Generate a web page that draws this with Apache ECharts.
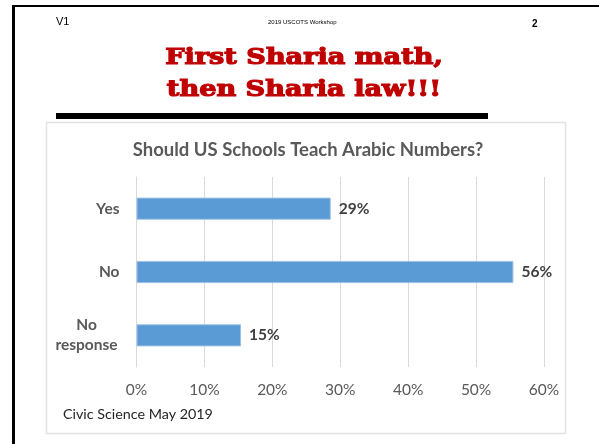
<!DOCTYPE html>
<html>
<head>
<meta charset="utf-8">
<script src="https://cdn.jsdelivr.net/npm/echarts@6/dist/echarts.min.js"></script>
<style>
  html, body { margin: 0; padding: 0; background: #fff; }
  #chart { width: 599px; height: 444px; }
</style>
</head>
<body>
<div id="chart"></div>
<script>
// survey data
var categories = ['Yes', 'No', 'No\nresponse']
var shares = [28.6, 55.5, 15.4]
var tickValues = [0, 10, 20, 30, 40, 50, 60]

var grayText = '#595959'
var barBlue = '#5b9bd5'
var fontFam = 'Lato, "Open Sans", sans-serif'

var myChart = echarts.init(document.getElementById('chart'), null, { renderer: 'canvas' })

var labelStyle = {
  color: grayText,
  fontFamily: fontFam,
  fontWeight: 'bold',
  fontSize: 15.5,
  lineHeight: 20
}

var option = {
  backgroundColor: '#fff',
  animation: false,
  title: {
    text: 'Should US Schools Teach Arabic Numbers?',
    left: 303,
    top: 136,
    textAlign: 'center',
    textStyle: {
      color: grayText,
      fontFamily: fontFam,
      fontWeight: 'bold',
      fontSize: 18.5
    }
  },
  graphic: [
    // slide frame: top and left black edges
    { type: 'rect', shape: { x: 12, y: 5, width: 600, height: 2 }, style: { fill: '#000' } },
    { type: 'rect', shape: { x: 12, y: 5, width: 3, height: 450 }, style: { fill: '#000' } },
    // header
    { type: 'text', left: 56, top: 16, style: { text: 'V1', fill: '#000', font: '11px "Liberation Sans", Arial, sans-serif' } },
    { type: 'text', left: 268, top: 19, style: { text: '2019 USCOTS Workshop', fill: '#000', font: '6px "Liberation Sans", Arial, sans-serif' } },
    { type: 'text', left: 532, top: 19, style: { text: '2', fill: '#000', font: 'bold 10px "Liberation Sans", Arial, sans-serif' } },
    // slide heading
    {
      type: 'text', x: 304, y: 74, scaleX: 1.18,
      style: {
        text: 'First Sharia math,\nthen Sharia law!!!',
        fill: '#c00000',
        stroke: '#c00000',
        lineWidth: 1.2,
        font: 'bold 23px "DejaVu Serif", serif',
        lineHeight: 32,
        align: 'center',
        verticalAlign: 'middle'
      }
    },
    // thick rule under heading
    { type: 'rect', shape: { x: 56, y: 113, width: 432, height: 6 }, style: { fill: '#000' } },
    // chart box
    { type: 'rect', shape: { x: 46.5, y: 122.5, width: 519, height: 311 }, style: { fill: 'none', stroke: '#e3e3e3', lineWidth: 1.5 } },
    // source note
    { type: 'text', left: 63, top: 407, style: { text: 'Civic Science May 2019', fill: '#262626', font: '14.3px Lato, "Open Sans", sans-serif' } }
  ],
  grid: {
    left: 136.5,
    right: 55,
    top: 177,
    bottom: 77,
    containLabel: false
  },
  xAxis: {
    type: 'value',
    min: 0,
    max: 60,
    interval: 10,
    axisLine: { show: false },
    axisTick: { show: false },
    splitLine: { show: true, lineStyle: { color: '#d9d9d9', width: 1 } },
    axisLabel: {
      color: grayText,
      fontFamily: fontFam,
      fontSize: 15.5,
      margin: 15,
      formatter: function (v) { return v + '%' }
    }
  },
  yAxis: {
    type: 'category',
    data: categories,
    inverse: true,
    axisLine: { show: true, lineStyle: { color: '#d9d9d9' } },
    axisTick: { show: false },
    axisLabel: {
      margin: 17,
      lineHeight: 20,
      formatter: function (v) {
        if (v.indexOf('\n') < 0) return '{r|' + v + '}'
        // two-line labels are centred on each other
        return v.split('\n').map(function (s) { return '{c|' + s + '}' }).join('\n')
      },
      rich: {
        r: labelStyle,
        c: Object.assign({ width: 66, align: 'center' }, labelStyle)
      }
    }
  },
  series: [
    {
      type: 'bar',
      data: shares,
      barWidth: '35%',
      itemStyle: { color: barBlue, borderColor: '#9dc3e6', borderWidth: 1 },
      label: {
        show: true,
        position: 'right',
        distance: 8,
        color: '#404040',
        fontFamily: fontFam,
        fontWeight: 'bold',
        fontSize: 15.5,
        formatter: function (p) { return Math.round(p.value) + '%' }
      }
    }
  ]
}

myChart.setOption(option)
</script>
</body>
</html>
